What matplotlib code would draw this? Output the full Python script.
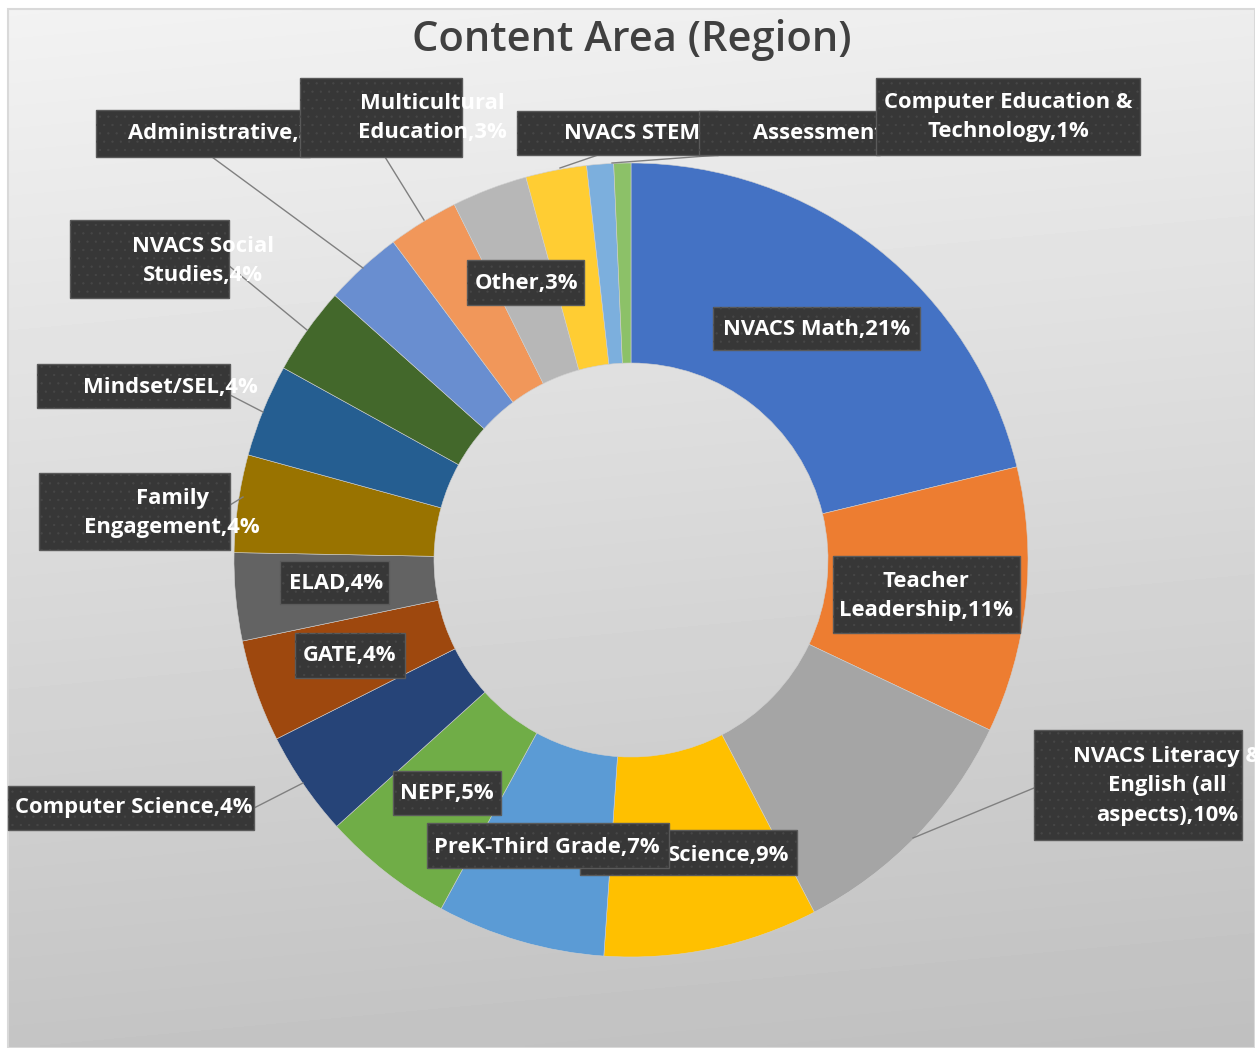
import numpy as np
import matplotlib.pyplot as plt
from matplotlib.patches import Rectangle

plt.rcParams['font.family'] = ['Open Sans', 'DejaVu Sans']
plt.rcParams['hatch.linewidth'] = 0.4

categories = ['NVACS Math', 'Teacher Leadership', 'NVACS Literacy & English (all aspects)',
              'Science', 'PreK-Third Grade', 'NEPF', 'Computer Science', 'GATE', 'ELAD',
              'Family Engagement', 'Mindset/SEL', 'NVACS Social Studies', 'Administrative',
              'Multicultural Education', 'Other', 'NVACS STEM', 'Assessment',
              'Computer Education & Technology']
shares = [21.4, 10.9, 10.4, 8.8, 6.9, 5.4, 4.3, 4.2, 3.6, 4.0, 3.8, 3.6, 3.2, 2.9, 3.1, 2.5, 1.1, 0.7]
pct_labels = ['21%', '11%', '10%', '9%', '7%', '5%', '4%', '4%', '4%', '4%', '4%', '4%',
              '3%', '3%', '3%', '2%', '1%', '1%']
colors = ['#4472C4', '#ED7D31', '#A5A5A5', '#FFC000', '#5B9BD5', '#70AD47', '#264478',
          '#9E480E', '#636363', '#997300', '#255E91', '#43682B', '#698ED0', '#F1975A',
          '#B7B7B7', '#FFCD33', '#7CAFDD', '#8CC168']

# label wrapping as shown in the chart
wrapped = {
    'Teacher Leadership': 'Teacher\nLeadership',
    'NVACS Literacy & English (all aspects)': 'NVACS Literacy &\nEnglish (all\naspects)',
    'Family Engagement': 'Family\nEngagement',
    'NVACS Social Studies': 'NVACS Social\nStudies',
    'Multicultural Education': 'Multicultural\nEducation',
    'Computer Education & Technology': 'Computer Education &\nTechnology',
}

# layout in pixels (y down): box (x0, y0, x1, y1), text anchor, alignment, leader line
layout = [
    ((713, 307, 920, 350), (817, 329), 'center', None),
    ((833, 556, 1020, 633), (926, 596), 'center', None),
    ((1034, 730, 1242, 840), (1167, 786), 'center', [(1034, 788), (913, 838)]),
    ((580, 830, 797, 875), (729, 855), 'center', None),
    ((427, 823, 669, 868), (547, 847), 'center', None),
    ((393, 771, 501, 815), (447, 794), 'center', None),
    ((8, 786, 254, 830), (134, 808), 'center', [(254, 808), (303, 783)]),
    ((295, 633, 405, 678), (350, 656), 'center', None),
    ((280, 561, 389, 604), (336, 583), 'center', None),
    ((39, 473, 230, 550), (172, 513), 'center', [(230, 505), (243, 497)]),
    ((37, 364, 230, 408), (170, 387), 'center', [(230, 395), (263, 412)]),
    ((70, 220, 229, 298), (203, 261), 'center', [(228, 265), (307, 330)]),
    ((96, 110, 310, 157), (128, 134), 'left', [(212, 157), (363, 268)]),
    ((300, 78, 462, 157), (432, 118), 'center', [(385, 157), (424, 220)]),
    ((467, 260, 584, 305), (527, 283), 'center', None),
    ((517, 111, 718, 155), (564, 134), 'left', [(598, 155), (560, 168)]),
    ((699, 111, 880, 155), (753, 134), 'left', [(720, 155), (612, 163)]),
    ((876, 78, 1140, 155), (1008, 117), 'center', None),
]

W, H = 1255, 1048
fig = plt.figure(figsize=(W / 100, H / 100), dpi=100)
fig.patch.set_facecolor('white')
ax = fig.add_axes([0, 0, 1, 1])

# chart area background gradient
rows = np.linspace(0, 1, 200)[:, None]
cols = np.linspace(0, 1, 200)[None, :]
grad = 0.95 - 0.18 * rows - 0.02 * cols
ax.imshow(grad, cmap='gray', vmin=0, vmax=1, extent=(8, W, H, 9), aspect='auto',
          zorder=0, interpolation='bilinear')
ax.add_patch(Rectangle((8, 9), W - 8, H - 9, fill=False, edgecolor='#d9d9d9', lw=1.5, zorder=1))

ax.pie(shares, colors=colors, startangle=-90, counterclock=True, radius=397,
       center=(631, 560), wedgeprops=dict(width=200, linewidth=0.4, edgecolor='#d0d0d0'),
       normalize=True)
for w in ax.patches:
    if w.get_zorder() < 2:
        w.set_zorder(2)

for i, (cat, pct) in enumerate(zip(categories, pct_labels)):
    (x0, y0, x1, y1), (tx, ty), ha, leader = layout[i]
    if leader is not None:
        ax.plot([leader[0][0], leader[1][0]], [leader[0][1], leader[1][1]],
                color='#808080', lw=1, zorder=3)
    ax.add_patch(Rectangle((x0, y0), x1 - x0, y1 - y0, facecolor='#373737',
                           edgecolor='#5a5a5a', lw=1, zorder=10 + 2 * i))
    ax.add_patch(Rectangle((x0, y0), x1 - x0, y1 - y0, fill=False,
                           edgecolor='#474747', hatch='..', lw=0, zorder=10 + 2 * i))
    ax.text(tx, ty, wrapped.get(cat, cat) + ',' + pct, ha=ha, va='center',
            multialignment='center', color='white', fontsize=15.8, fontweight='bold',
            linespacing=1.55, zorder=11 + 2 * i)

ax.text(632, 40, 'Content Area (Region)', ha='center', va='center', fontsize=30,
        color='#404040', fontweight='semibold', zorder=50)

ax.set_xlim(0, W)
ax.set_ylim(H, 0)
ax.axis('off')

fig.savefig('out.png', dpi=100)
